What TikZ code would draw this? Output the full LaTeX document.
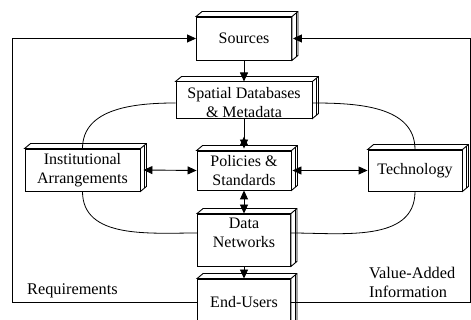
\documentclass[tikz,border=0pt]{standalone}
\usepackage{fontspec}
\setmainfont{Liberation Serif}
\usetikzlibrary{arrows.meta,calc,decorations.markings}

% top and side faces of a slab-shaped box around a named front node
\newcommand\slabfaces[1]{%
  \draw[slabline,fill=white] (#1.north west) -- ++(6,5)
    -- ([shift={(6,5)}]#1.north east) -- ([shift={(6,5)}]#1.south east)
    -- (#1.south east) -- (#1.north east) -- cycle;
  \draw[slabline] (#1.north east) -- ++(6,5);
  \draw[slabline] ([shift={(4,3.3)}]#1.north east) -- ([shift={(4,3.3)}]#1.south east);
}

\tikzset{
  slabline/.style={line width=0.9pt, line join=miter},
  slab/.style={draw, slabline, fill=white, inner sep=0pt, align=center,
    font=\fontsize{16}{19}\selectfont},
  lbl/.style={inner sep=0pt, align=left, font=\fontsize{16.3}{19}\selectfont},
  link/.style={line width=0.9pt},
  arc/.style={line width=0.8pt},
}

\begin{document}
\begin{tikzpicture}[x=1pt, y=1pt, >={Triangle[width=8pt,length=9pt]}]
\fill[white] (0,0) rectangle (471,320);
\useasboundingbox (0,0) rectangle (471,320);

% boxes
\node[slab, minimum width=95pt, minimum height=43pt] (sources) at (244,281.5) {Sources};
\node[slab, minimum width=136pt, minimum height=34pt] (spatial) at (244,220)
  {\rule{0pt}{17pt}Spatial Databases\\\& Metadata};
\node[slab, minimum width=115pt, minimum height=42pt] (inst) at (82.5,150)
  {Institutional\\Arrangements};
\node[slab, minimum width=94pt, minimum height=39pt] (policies) at (244,149.5)
  {Policies \&\\Standards};
\node[slab, minimum width=94pt, minimum height=41pt] (tech) at (415,149.5) {Technology};
\node[slab, minimum width=93pt, minimum height=52pt] (data) at (244,80)
  {Data\\Networks\rule[-14pt]{0pt}{0pt}};
\node[slab, minimum width=93pt, minimum height=46pt] (users) at (244,18) {End-Users};

\foreach \b in {sources,spatial,inst,policies,tech,data,users}{\slabfaces{\b}}

% loop joining the framework around the policies
\draw[arc] ([yshift=-3pt]spatial.west) to[out=180,in=90] (inst.north);
\draw[arc] (inst.south) to[out=-90,in=180] ([yshift=7pt]data.west);
\draw[arc] ([yshift=7pt]data.east) to[out=0,in=-90] (tech.south);
\draw[arc] (tech.north) to[out=90,in=0] ([yshift=-3pt]spatial.east);

% central links
\draw[link,->] (sources.south) -- (spatial.north);
\draw[link,->, postaction={decorate},
  decoration={markings, mark=at position 18pt with {\arrowreversed{Triangle[width=8pt,length=9pt]}}}]
  (spatial.south) -- ([yshift=2pt]policies.north);
\draw[link,<->] (policies.south) -- (data.north);
\draw[link,->] (data.south) -- (users.north);
\draw[link,<->] ([xshift=3pt]inst.east) -- (policies.west);
\draw[link,<->] ([xshift=1pt]policies.east) -- (tech.west);

% feedback loops from the end-users back to the sources
\coordinate (lcorner) at (12,18);
\coordinate (rcorner) at (470,18);
\draw[link,->] (users.west) -- (lcorner) |- (sources.west);
\draw[link,->] (users.east) -- (rcorner) |- ([xshift=1pt]sources.east);

\node[lbl, anchor=west] (req) at (27,29) {Requirements};
\node[lbl, anchor=west] (value) at (369,38) {Value-Added\\Information};
\end{tikzpicture}
\end{document}
